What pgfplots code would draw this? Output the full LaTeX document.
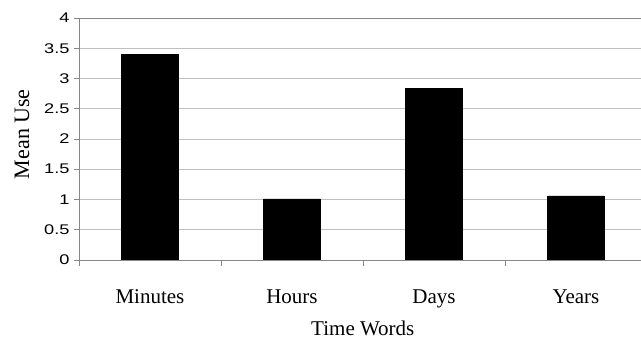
\documentclass[border=0pt]{standalone}
\usepackage{pgfplots}
\pgfplotsset{compat=1.18}
\usepackage{fontspec}
\setmainfont{Liberation Serif}
\newfontfamily\tickfont[FakeStretch=1.3]{Liberation Sans}
\definecolor{axisgray}{RGB}{135,135,135}
\definecolor{gridgray}{RGB}{192,192,192}
\begin{document}
\begin{tikzpicture}
\useasboundingbox (-79pt,-82pt) rectangle (562pt,260pt);
\begin{axis}[
  scale only axis, width=562pt, height=242pt,
  xmin=-0.5, xmax=3.458, ymin=0, ymax=4,
  axis x line*=bottom, axis y line*=left,
  axis line style={draw=axisgray, line width=0.9pt, -},
  ytick={0,0.5,1,1.5,2,2.5,3,3.5,4},
  yticklabels={0,0.5,1,1.5,2,2.5,3,3.5,4},
  ymajorgrids, grid style={draw=gridgray, line width=0.9pt},
  xtick={0,1,2,3}, xticklabels={Minutes,Hours,Days,Years},
  minor xtick={-0.5,0.5,1.5,2.5},
  major x tick style={draw=none},
  minor x tick style={draw=axisgray, line width=0.9pt},
  major y tick style={draw=axisgray, line width=0.9pt},
  tick align=outside, major tick length=5pt, minor tick length=6pt,
  yticklabel style={font=\tickfont\fontsize{14}{14}\selectfont, xshift=-1pt},
  xticklabel style={font=\fontsize{21}{21}\selectfont, yshift=-21pt},
  xlabel={Time Words}, ylabel={Mean Use},
  xlabel style={font=\fontsize{21}{21}\selectfont, at={(axis description cs:0.505,0)}, anchor=center, yshift=-68pt},
  ylabel style={font=\fontsize{22}{22}\selectfont, at={(axis description cs:-0.1014,0.52)}, anchor=center},
  ybar, bar width=57pt,
]
\addplot[fill=black, draw=black] coordinates {(0,3.40) (1,1.01) (2,2.84) (3,1.06)};
\draw[axisgray, line width=0.9pt] (axis cs:-0.5,4) -- (axis cs:3.458,4);
\end{axis}
\end{tikzpicture}
\end{document}
